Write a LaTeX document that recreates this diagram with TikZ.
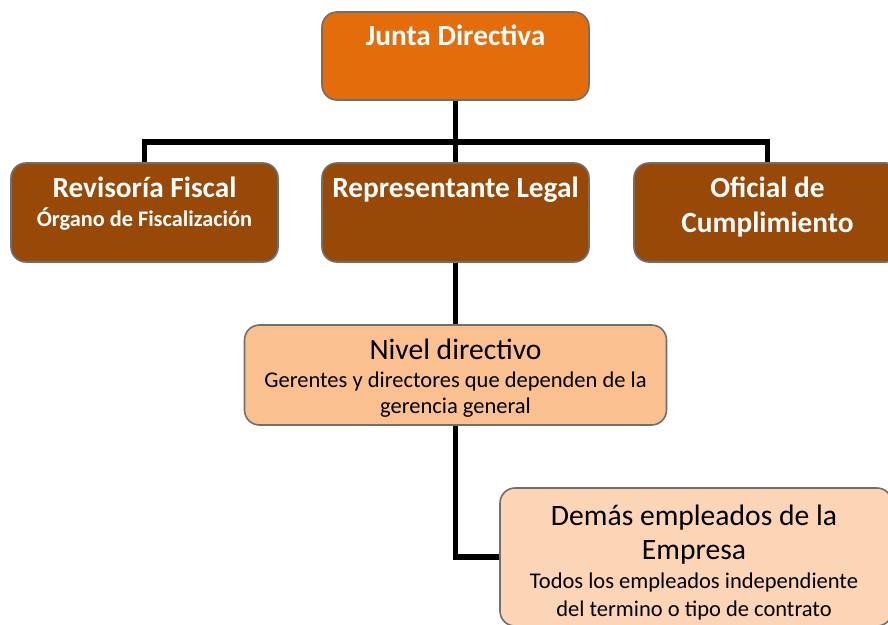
\documentclass[tikz,border=0pt]{standalone}
\usepackage{fontspec}
\setmainfont{Carlito}
\definecolor{cjunta}{HTML}{E46C0A}
\definecolor{cbrown}{HTML}{984807}
\definecolor{cnivel}{HTML}{FAC090}
\definecolor{cdemas}{HTML}{FBD5B5}
\definecolor{cborder}{HTML}{6F6F6F}
\tikzset{
  box/.style={draw=cborder, line width=1.6pt, rounded corners=15pt, inner sep=0pt},
  conn/.style={draw=black, line width=5.5pt},
  hdr/.style={anchor=base, inner sep=0pt, text=white, font=\fontsize{29.3}{34}\selectfont\bfseries},
  hsub/.style={anchor=base, inner sep=0pt, text=white, font=\fontsize{22.3}{26}\selectfont\bfseries},
  lhdr/.style={anchor=base, inner sep=0pt, text=black, font=\fontsize{29.6}{34}\selectfont},
  lsub/.style={anchor=base, inner sep=0pt, text=black, font=\fontsize{22.5}{26}\selectfont},
}
\begin{document}
\begin{tikzpicture}[x=1pt,y=-1pt]
\useasboundingbox (0,0) rectangle (888,624);
\clip (0,0) rectangle (888,624);
% boxes
\node[box, fill=cjunta, minimum width=267pt, minimum height=88pt] (junta) at (455.5,56) {};
\node[box, fill=cbrown, minimum width=267pt, minimum height=99pt] (rev) at (144.5,212.5) {};
\node[box, fill=cbrown, minimum width=267pt, minimum height=99pt] (rep) at (455.5,212.5) {};
\node[box, fill=cbrown, minimum width=267pt, minimum height=99pt] (ofi) at (767.5,212.5) {};
\node[box, fill=cnivel, minimum width=422pt, minimum height=100pt] (nivel) at (455.5,375) {};
\node[box, fill=cdemas, minimum width=392pt, minimum height=138pt] (dem) at (696,557) {};
% connectors
\coordinate (bus) at (455.5,142);
\draw[conn] (junta.south) -- (rep.north);
\draw[conn] (rev.north) |- (bus) -| (ofi.north);
\draw[conn] (rep.south) -- (nivel.north);
\draw[conn] (nivel.south) |- (dem.west);
% texts
\node[hdr] (tjunta) at (455.5,45) {Junta Directiva};
\node[hdr] (trev1) at (144.5,197) {Revisoría Fiscal};
\node[hsub] (trev2) at (144.5,226) {Órgano de Fiscalización};
\node[hdr] (trep) at (455.5,197) {Representante Legal};
\node[hdr] (tofi1) at (767.5,197) {Oficial de};
\node[hdr] (tofi2) at (767.5,232) {Cumplimiento};
\node[lhdr] (tniv1) at (455.5,359) {Nivel directivo};
\node[lsub] (tniv2) at (455.5,387) {Gerentes y directores que dependen de la};
\node[lsub] (tniv3) at (455.5,413) {gerencia general};
\node[lhdr] (tdem1) at (694,525) {Demás empleados de la};
\node[lhdr] (tdem2) at (694,559) {Empresa};
\node[lsub] (tdem3) at (694,588) {Todos los empleados independiente};
\node[lsub] (tdem4) at (694,616) {del termino o tipo de contrato};
\end{tikzpicture}
\end{document}
